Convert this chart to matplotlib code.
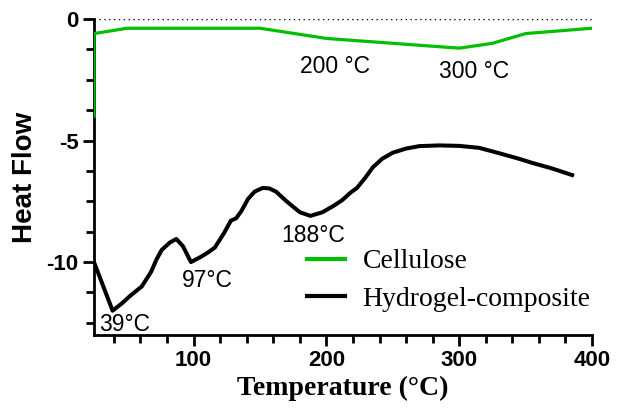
import matplotlib
matplotlib.use("Agg")
import matplotlib.pyplot as plt
from matplotlib.ticker import MultipleLocator

plt.rcParams["axes.unicode_minus"] = False

# Data
cell_T = [25, 25, 50, 150, 200, 300, 325, 350, 400]
cell_H = [-4.0, -0.6, -0.38, -0.38, -0.8, -1.2, -1.0, -0.6, -0.38]

hyd_T = [25, 32, 39, 46, 52, 61, 68, 72, 76, 82, 87, 92, 98, 105, 111, 116, 123, 128, 132,
         136, 141, 146, 152, 157, 162, 170, 180, 188, 197, 205, 212, 218, 223, 229,
         235, 242, 250, 260, 270, 285, 300, 315, 330, 345, 355, 370, 385]
hyd_H = [-10.0, -11.0, -12.0, -11.7, -11.4, -11.0, -10.4, -9.9, -9.5, -9.2, -9.05, -9.35,
         -10.0, -9.8, -9.6, -9.4, -8.8, -8.3, -8.2, -7.9, -7.4, -7.1, -6.95, -6.97, -7.1,
         -7.5, -7.95, -8.1, -7.95, -7.7, -7.45, -7.15, -6.95, -6.55, -6.1, -5.75,
         -5.5, -5.33, -5.23, -5.2, -5.22, -5.3, -5.52, -5.75, -5.92, -6.15, -6.42]

labels = ["Cellulose", "Hydrogel-composite"]
annot_text = ["39°C", "97°C", "188°C", "200 °C", "300 °C"]
annot_T = [29, 91, 166, 180, 285]
annot_H = [-12.58, -10.77, -8.92, -1.95, -2.16]

fig = plt.figure(figsize=(6.19, 4.11), dpi=100)
ax = fig.add_axes([94/619, 76/411, 498/619, 316/411])

ax.axhline(0, color="black", lw=1.0, ls=(0, (1, 2.5)), zorder=1)
ax.plot(cell_T, cell_H, color="#00BE00", lw=2.3, label=labels[0], zorder=3)
ax.plot(hyd_T, hyd_H, color="black", lw=2.9, label=labels[1], zorder=3,
        solid_joinstyle="round")

ax.set_xlim(25, 400)
ax.set_ylim(-13, 0)
ax.xaxis.set_major_locator(MultipleLocator(100))
ax.xaxis.set_minor_locator(MultipleLocator(20))
ax.yaxis.set_major_locator(MultipleLocator(5))
ax.yaxis.set_minor_locator(MultipleLocator(1.25))
ax.set_xticks([100, 200, 300, 400])

for s in ["top", "right"]:
    ax.spines[s].set_visible(False)
for s in ["left", "bottom"]:
    ax.spines[s].set_linewidth(2.0)
ax.tick_params(which="major", length=8, width=2.0, labelsize=16, pad=3)
ax.tick_params(which="minor", length=5.5, width=2.0)
for lab in ax.get_xticklabels() + ax.get_yticklabels():
    lab.set_fontfamily("Liberation Sans")
    lab.set_fontweight("bold")

ax.set_xlabel("Temperature (°C)", fontfamily="Liberation Serif", fontweight="bold",
              fontsize=20, labelpad=3)
ax.set_ylabel("Heat Flow", fontfamily="Liberation Sans", fontweight="bold",
              fontsize=20, labelpad=6)

for t, x, y in zip(annot_text, annot_T, annot_H):
    ax.text(x, y, t, fontfamily="Liberation Sans", fontsize=16.5, ha="left", va="center")

leg = ax.legend(loc="upper left", bbox_to_anchor=(0.428, 0.272), frameon=False,
                prop={"family": "Liberation Serif", "size": 20},
                handlelength=1.35, handletextpad=0.65, labelspacing=0.42,
                borderpad=0, borderaxespad=0)
for h in leg.get_lines():
    h.set_linewidth(3.0)

fig.savefig("out.png", dpi=100)
